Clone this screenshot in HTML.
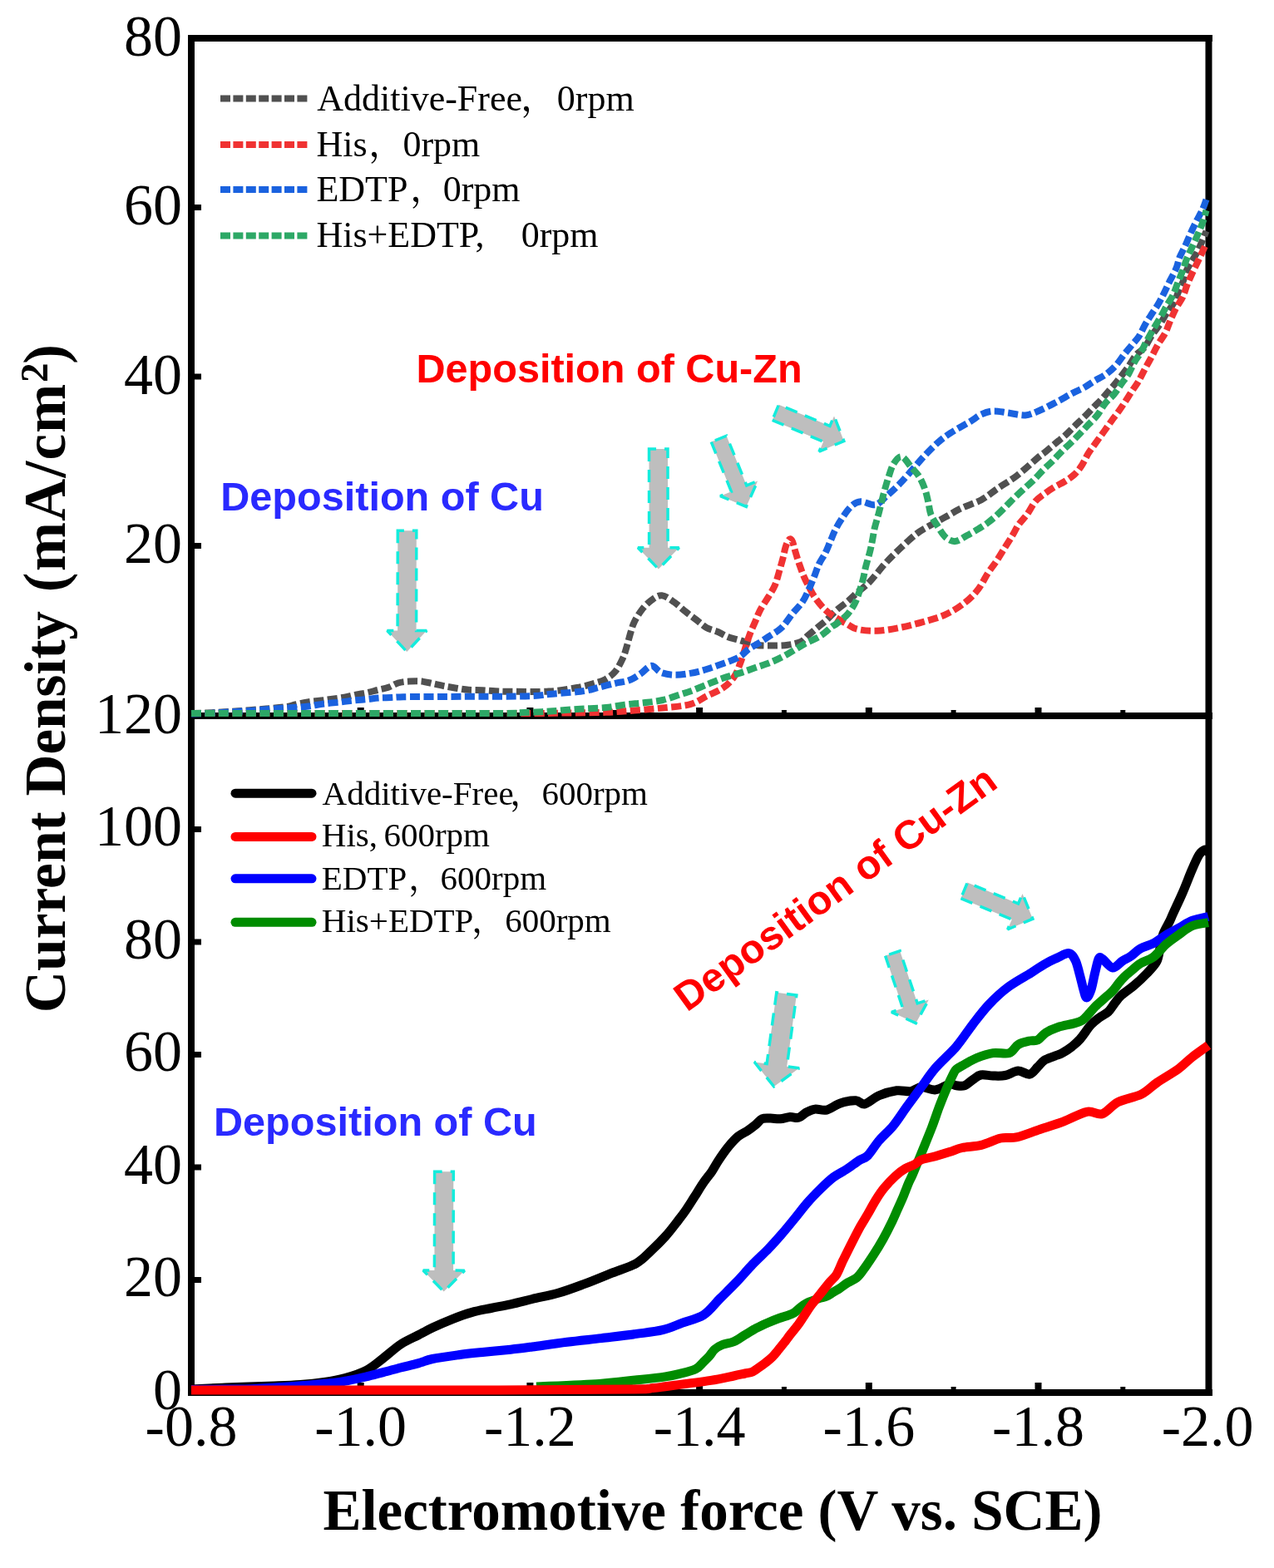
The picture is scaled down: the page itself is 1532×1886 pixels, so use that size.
<!DOCTYPE html>
<html><head><meta charset="utf-8"><title>Current density vs electromotive force</title>
<style>html,body{margin:0;padding:0;background:#fff;}svg{display:block;}</style></head>
<body>
<svg width="1532" height="1886" viewBox="0 0 1532 1886">
<rect x="0" y="0" width="1532" height="1886" fill="#fff"/>

<g fill="#000">
<rect x="226" y="42" width="1232" height="8"/>
<rect x="226" y="1671" width="1232" height="8"/>
<rect x="226" y="42" width="8" height="1637"/>
<rect x="1449.5" y="42" width="8" height="1637"/>
<rect x="226" y="857" width="1232" height="8"/>
<rect x="234" y="246.0" width="8" height="7"/>
<rect x="234" y="449.5" width="8" height="7"/>
<rect x="234" y="653.0" width="8" height="7"/>
<rect x="234" y="994.0" width="8" height="7"/>
<rect x="234" y="1129.5" width="8" height="7"/>
<rect x="234" y="1265.0" width="8" height="7"/>
<rect x="234" y="1400.5" width="8" height="7"/>
<rect x="234" y="1536.0" width="8" height="7"/>
<rect x="429.7" y="1663" width="8" height="8"/>
<rect x="429.7" y="851" width="8" height="6"/>
<rect x="633.4" y="1663" width="8" height="8"/>
<rect x="633.4" y="851" width="8" height="6"/>
<rect x="837.1" y="1663" width="8" height="8"/>
<rect x="837.1" y="851" width="8" height="6"/>
<rect x="1040.8" y="1663" width="8" height="8"/>
<rect x="1040.8" y="851" width="8" height="6"/>
<rect x="1244.5" y="1663" width="8" height="8"/>
<rect x="1244.5" y="851" width="8" height="6"/>
<rect x="328.9" y="1668" width="6" height="3"/>
<rect x="328.9" y="854" width="6" height="3"/>
<rect x="532.5" y="1668" width="6" height="3"/>
<rect x="532.5" y="854" width="6" height="3"/>
<rect x="736.2" y="1668" width="6" height="3"/>
<rect x="736.2" y="854" width="6" height="3"/>
<rect x="939.9" y="1668" width="6" height="3"/>
<rect x="939.9" y="854" width="6" height="3"/>
<rect x="1143.6" y="1668" width="6" height="3"/>
<rect x="1143.6" y="854" width="6" height="3"/>
<rect x="1347.3" y="1668" width="6" height="3"/>
<rect x="1347.3" y="854" width="6" height="3"/>
</g>
<g fill="none" stroke-width="8" stroke-dasharray="12 4.5" stroke-linejoin="round">
<path d="M230.0,858.0 C235.0,857.8 250.0,857.5 260.0,857.0 C270.0,856.5 280.0,855.8 290.0,855.0 C300.0,854.2 310.8,853.3 320.0,852.5 C329.2,851.7 339.2,850.8 345.0,850.0 C350.8,849.2 350.8,848.4 355.0,847.5 C359.2,846.6 363.8,845.5 370.0,844.5 C376.2,843.5 384.7,842.8 392.0,841.8 C399.3,840.8 408.0,839.6 414.0,838.6 C420.0,837.6 423.3,836.5 427.8,835.6 C432.3,834.7 436.5,834.2 440.9,833.3 C445.2,832.4 449.5,831.1 453.9,830.0 C458.2,828.9 462.9,828.2 467.0,826.8 C471.1,825.4 474.6,822.7 478.7,821.5 C482.8,820.3 487.0,819.9 491.8,819.6 C496.6,819.3 502.5,819.1 507.5,819.6 C512.5,820.1 517.4,821.6 521.8,822.5 C526.1,823.4 529.1,824.2 533.6,825.1 C538.1,826.0 543.6,826.9 548.6,827.7 C553.6,828.5 558.4,829.4 563.6,829.8 C568.8,830.2 574.6,830.0 579.9,830.3 C585.2,830.5 589.9,831.0 595.6,831.3 C601.3,831.5 603.3,831.8 614.0,831.8 C624.7,831.8 646.7,832.4 660.0,831.6 C673.3,830.8 684.5,828.7 694.0,827.0 C703.5,825.3 711.2,823.0 717.0,821.3 C722.8,819.6 724.7,819.1 728.5,816.8 C732.3,814.5 736.6,811.8 740.0,807.6 C743.4,803.4 746.7,796.5 749.0,791.6 C751.3,786.7 752.1,782.9 753.6,778.0 C755.1,773.1 756.5,767.0 758.0,762.0 C759.5,757.0 760.4,753.0 762.7,748.2 C765.0,743.4 768.5,737.8 771.9,733.4 C775.3,729.0 779.3,724.9 783.3,722.0 C787.3,719.1 791.3,715.9 795.9,716.3 C800.5,716.7 806.0,721.1 810.7,724.3 C815.5,727.5 819.9,732.1 824.4,735.7 C828.9,739.3 833.8,742.8 838.0,746.0 C842.2,749.2 845.4,752.7 849.6,755.0 C853.8,757.3 859.1,758.2 863.3,760.0 C867.5,761.8 870.8,764.3 875.0,765.9 C879.2,767.5 883.2,768.2 888.7,769.8 C894.2,771.4 901.8,774.6 908.3,775.7 C914.8,776.8 921.4,776.6 927.9,776.6 C934.4,776.6 941.6,776.5 947.5,775.7 C953.4,774.9 959.2,773.6 963.1,771.8 C967.0,770.0 967.7,767.7 971.0,764.9 C974.3,762.1 978.8,758.4 982.7,755.1 C986.6,751.8 990.6,748.9 994.5,745.3 C998.4,741.7 1002.0,737.4 1006.2,733.6 C1010.5,729.9 1015.8,726.4 1020.0,722.8 C1024.2,719.2 1027.5,715.8 1031.7,712.0 C1035.9,708.2 1039.9,706.0 1045.4,700.3 C1050.9,694.6 1058.5,684.3 1064.6,677.6 C1070.7,670.9 1076.0,665.8 1082.2,659.9 C1088.4,654.0 1095.9,646.9 1101.8,642.3 C1107.7,637.7 1111.6,635.9 1117.5,632.5 C1123.4,629.1 1130.6,625.4 1137.1,621.8 C1143.6,618.2 1149.4,614.4 1156.6,611.0 C1163.8,607.6 1172.9,605.1 1180.1,601.2 C1187.3,597.3 1192.5,592.4 1199.7,587.5 C1206.9,582.6 1215.3,577.9 1223.2,571.8 C1231.1,565.7 1241.6,555.9 1247.3,551.1 C1253.0,546.3 1253.8,546.2 1257.6,543.1 C1261.4,540.0 1266.1,535.9 1270.0,532.6 C1273.9,529.3 1277.5,526.8 1281.1,523.5 C1284.7,520.2 1288.0,516.6 1291.6,513.1 C1295.2,509.6 1298.9,506.3 1302.7,502.6 C1306.5,498.9 1310.6,494.4 1314.2,490.7 C1317.8,487.0 1321.4,483.7 1324.6,480.3 C1327.8,476.9 1330.2,473.9 1333.1,470.5 C1336.0,467.1 1338.4,464.7 1342.2,460.0 C1346.0,455.3 1351.9,447.9 1355.9,442.4 C1359.9,436.9 1362.6,431.1 1366.0,427.0 C1369.4,422.9 1373.2,421.8 1376.4,417.8 C1379.6,413.8 1382.3,407.6 1385.3,403.1 C1388.3,398.6 1391.2,395.4 1394.2,391.0 C1397.2,386.6 1400.1,380.9 1403.1,376.4 C1406.1,371.8 1409.7,367.9 1412.0,363.7 C1414.3,359.4 1415.3,355.1 1417.1,350.9 C1418.9,346.6 1421.3,342.2 1422.8,338.2 C1424.3,334.2 1424.5,330.7 1426.0,327.0 C1427.5,323.3 1429.9,319.7 1432.0,316.0 C1434.1,312.3 1436.5,308.9 1438.7,304.8 C1440.9,300.7 1443.0,296.0 1445.0,291.5 C1447.0,287.0 1449.6,280.2 1450.5,278.0" stroke="#505050"/>
<path d="M230.0,858.0 C258.3,858.0 338.3,858.0 400.0,858.0 C461.7,858.0 558.3,858.0 600.0,858.0 C641.7,858.0 636.2,858.1 650.0,858.0 C663.8,857.9 669.7,857.7 682.8,857.5 C695.9,857.3 715.2,857.3 728.5,856.8 C741.8,856.3 751.3,855.4 762.7,854.5 C774.1,853.6 785.8,852.7 797.0,851.5 C808.2,850.3 821.2,849.5 830.0,847.1 C838.8,844.8 843.1,840.6 849.6,837.4 C856.1,834.1 863.7,831.5 869.2,827.6 C874.8,823.7 879.3,819.1 882.9,813.9 C886.5,808.7 888.2,802.7 890.7,796.2 C893.2,789.7 895.7,780.6 897.6,774.7 C899.5,768.8 900.6,765.6 902.4,761.0 C904.2,756.4 906.3,751.9 908.3,747.3 C910.3,742.7 911.6,738.5 914.2,733.6 C916.8,728.7 921.1,722.8 924.0,717.9 C926.9,713.0 929.7,709.1 931.8,704.2 C933.9,699.3 935.1,694.0 936.7,688.5 C938.3,683.0 940.3,675.9 941.6,670.9 C942.9,665.9 943.5,661.8 944.5,658.5 C945.5,655.2 946.5,652.7 947.5,651.0 C948.5,649.3 949.4,648.0 950.4,648.2 C951.4,648.4 952.3,649.7 953.2,652.0 C954.1,654.3 954.7,657.5 956.0,662.0 C957.3,666.5 959.4,673.3 961.2,678.7 C963.1,684.1 965.1,689.8 967.1,694.4 C969.1,699.0 970.7,702.0 973.0,706.2 C975.3,710.5 977.5,715.3 980.8,719.9 C984.0,724.5 988.6,729.9 992.5,733.6 C996.4,737.4 1000.0,739.6 1004.3,742.4 C1008.5,745.2 1013.5,747.8 1018.0,750.2 C1022.5,752.6 1025.2,755.5 1031.3,756.9 C1037.4,758.3 1046.3,759.1 1054.8,758.8 C1063.3,758.5 1073.0,756.7 1082.2,754.9 C1091.4,753.1 1100.6,750.7 1109.7,748.1 C1118.8,745.5 1128.6,743.1 1137.1,739.2 C1145.6,735.3 1154.1,729.7 1160.6,724.6 C1167.1,719.5 1171.6,714.8 1176.2,708.9 C1180.8,703.0 1184.4,694.8 1188.0,689.3 C1191.6,683.8 1194.5,680.5 1197.8,675.6 C1201.1,670.7 1204.3,665.1 1207.6,659.9 C1210.8,654.7 1214.4,649.2 1217.3,644.3 C1220.2,639.4 1222.2,634.9 1225.2,630.6 C1228.2,626.4 1231.7,623.4 1235.0,618.8 C1238.3,614.2 1241.5,607.2 1244.8,603.2 C1248.1,599.2 1251.2,597.4 1255.0,594.6 C1258.8,591.8 1263.2,588.8 1267.4,586.2 C1271.7,583.6 1276.4,581.6 1280.5,579.0 C1284.6,576.4 1288.8,573.7 1292.2,570.5 C1295.6,567.3 1298.0,564.1 1300.7,560.0 C1303.4,555.9 1305.7,550.3 1308.5,545.7 C1311.3,541.1 1314.5,537.1 1317.7,532.6 C1320.9,528.1 1324.7,523.0 1327.9,518.5 C1331.1,514.0 1334.2,509.6 1337.0,505.7 C1339.8,501.8 1342.2,499.0 1344.8,495.3 C1347.4,491.6 1350.0,487.7 1352.7,483.6 C1355.4,479.5 1358.4,474.6 1361.1,470.5 C1363.8,466.4 1366.4,463.2 1369.0,458.7 C1371.6,454.2 1374.2,448.6 1376.8,443.7 C1379.4,438.8 1382.1,434.2 1384.7,429.4 C1387.3,424.5 1389.5,419.4 1392.3,414.6 C1395.0,409.8 1398.8,405.3 1401.2,400.6 C1403.6,395.9 1404.8,391.5 1406.9,386.6 C1409.0,381.7 1411.4,376.2 1413.9,371.3 C1416.5,366.4 1420.0,362.0 1422.2,357.3 C1424.4,352.6 1425.4,348.1 1427.3,343.3 C1429.2,338.5 1431.5,333.5 1433.7,328.6 C1435.9,323.7 1438.6,318.4 1440.7,314.0 C1442.8,309.6 1444.8,305.4 1446.4,301.9 C1448.0,298.4 1449.8,294.5 1450.5,293.0" stroke="#F03232"/>
<path d="M230.0,858.5 C235.0,858.3 250.0,858.0 260.0,857.5 C270.0,857.0 283.3,855.9 290.0,855.5 C296.7,855.1 292.8,855.5 300.0,855.0 C307.2,854.5 324.2,853.0 333.0,852.3 C341.8,851.6 346.7,851.5 353.0,851.0 C359.3,850.5 364.8,850.3 371.0,849.5 C377.2,848.7 383.5,847.2 390.0,846.4 C396.5,845.6 404.0,845.2 410.0,844.5 C416.0,843.8 420.8,843.0 426.0,842.4 C431.2,841.8 436.2,841.6 441.0,841.1 C445.8,840.6 450.2,839.9 455.0,839.5 C459.8,839.1 465.0,839.2 470.0,839.0 C475.0,838.8 476.1,838.4 485.0,838.2 C493.9,838.0 509.8,838.1 523.7,838.0 C537.6,837.9 549.6,837.9 568.5,837.8 C587.4,837.7 621.8,837.8 637.0,837.3 C652.2,836.8 651.6,835.8 660.0,835.0 C668.4,834.2 679.7,833.5 687.3,832.8 C694.9,832.0 700.3,831.5 705.6,830.5 C710.9,829.5 713.6,828.5 719.3,827.0 C725.0,825.5 733.9,823.2 740.0,821.8 C746.1,820.4 751.0,820.4 755.9,818.6 C760.8,816.8 765.0,814.0 769.6,811.0 C774.2,808.0 779.1,801.2 783.3,800.8 C787.5,800.4 790.1,807.0 794.7,808.8 C799.3,810.6 804.8,811.6 810.7,811.8 C816.6,812.0 823.5,811.0 830.0,809.9 C836.5,808.8 843.1,807.0 849.6,805.0 C856.1,803.0 862.7,800.6 869.2,798.2 C875.7,795.8 883.5,793.3 888.7,790.4 C893.9,787.5 896.6,783.4 900.5,780.6 C904.4,777.8 908.3,776.2 912.2,773.7 C916.1,771.2 919.4,769.0 924.0,765.9 C928.6,762.8 934.8,759.8 939.7,755.1 C944.6,750.4 949.2,742.7 953.4,737.5 C957.6,732.3 961.8,728.7 965.1,723.8 C968.4,718.9 970.7,713.0 973.0,708.1 C975.3,703.2 976.8,699.3 978.8,694.4 C980.8,689.5 982.4,683.6 984.7,678.7 C987.0,673.8 990.2,669.6 992.5,665.0 C994.8,660.4 996.4,655.9 998.4,651.3 C1000.4,646.7 1002.1,642.0 1004.3,637.6 C1006.5,633.2 1008.5,629.5 1011.7,624.7 C1014.9,619.9 1019.6,612.6 1023.5,609.0 C1027.4,605.4 1030.3,603.5 1035.2,603.2 C1040.1,602.9 1047.7,608.2 1052.9,607.1 C1058.1,606.0 1061.7,600.5 1066.6,596.3 C1071.5,592.0 1077.0,587.0 1082.2,581.6 C1087.4,576.2 1093.0,569.5 1097.9,564.0 C1102.8,558.5 1106.7,553.5 1111.6,548.3 C1116.5,543.1 1122.1,537.3 1127.3,532.7 C1132.5,528.1 1136.4,525.1 1142.9,520.9 C1149.4,516.6 1160.2,510.9 1166.4,507.2 C1172.6,503.4 1175.5,500.5 1180.1,498.4 C1184.7,496.3 1188.7,494.8 1193.9,494.5 C1199.1,494.2 1205.0,495.6 1211.5,496.4 C1218.0,497.2 1226.5,499.9 1233.0,499.4 C1239.5,498.9 1244.4,496.1 1250.6,493.5 C1256.8,490.9 1263.7,487.1 1270.2,483.7 C1276.7,480.3 1284.3,475.8 1289.8,472.9 C1295.3,470.0 1298.6,469.1 1303.0,466.6 C1307.4,464.1 1311.6,460.8 1316.1,458.1 C1320.6,455.4 1325.5,453.4 1329.8,450.3 C1334.0,447.2 1337.9,443.8 1341.6,439.8 C1345.3,435.8 1348.8,430.2 1352.0,426.1 C1355.2,422.0 1358.2,418.6 1361.1,415.0 C1364.0,411.4 1366.9,408.7 1369.6,404.6 C1372.2,400.5 1374.5,394.8 1377.0,390.4 C1379.5,386.0 1381.9,382.4 1384.6,378.3 C1387.2,374.2 1390.4,370.0 1392.9,365.6 C1395.5,361.2 1397.6,356.9 1399.9,352.2 C1402.2,347.5 1404.5,342.6 1406.9,337.6 C1409.4,332.6 1412.7,327.0 1414.6,322.3 C1416.5,317.6 1416.7,314.0 1418.5,309.5 C1420.3,305.0 1423.2,300.2 1425.4,295.3 C1427.6,290.4 1429.6,285.3 1431.8,280.4 C1434.0,275.5 1436.3,270.9 1438.7,266.1 C1441.1,261.3 1444.1,256.2 1446.1,251.8 C1448.1,247.5 1449.8,242.0 1450.5,240.0" stroke="#1A62DF"/>
<path d="M230.0,858.0 C258.3,858.0 338.3,858.0 400.0,858.0 C461.7,858.0 562.5,858.1 600.0,858.0 C637.5,857.9 617.5,857.5 625.0,857.3 C632.5,857.0 638.3,856.8 645.0,856.5 C651.7,856.2 656.8,855.9 665.0,855.3 C673.2,854.7 683.6,853.6 694.2,852.9 C704.8,852.2 719.0,851.9 728.5,851.0 C738.0,850.1 743.7,848.6 751.3,847.6 C758.9,846.6 766.6,846.2 774.2,845.3 C781.8,844.4 789.4,843.8 797.0,842.0 C804.6,840.2 814.4,836.4 819.9,834.6 C825.4,832.9 825.0,833.3 830.0,831.5 C835.0,829.7 843.1,826.2 849.6,823.6 C856.1,821.0 862.7,818.1 869.2,815.8 C875.7,813.5 882.2,812.0 888.7,809.9 C895.2,807.8 901.8,805.4 908.3,803.1 C914.8,800.8 921.4,799.0 927.9,796.2 C934.4,793.4 941.0,790.0 947.5,786.4 C954.0,782.8 960.6,778.3 967.1,774.7 C973.6,771.1 981.1,768.4 986.6,764.9 C992.1,761.4 996.7,756.4 1000.0,753.9 C1003.3,751.4 1002.9,752.6 1006.2,750.0 C1009.5,747.4 1015.7,742.9 1019.6,738.3 C1023.5,733.7 1026.5,729.1 1029.4,722.6 C1032.3,716.1 1035.2,706.0 1037.2,699.1 C1039.2,692.2 1039.6,687.4 1041.1,681.5 C1042.6,675.6 1044.7,669.1 1046.0,663.9 C1047.3,658.7 1048.0,655.0 1049.0,650.1 C1050.0,645.2 1050.6,640.0 1051.9,634.5 C1053.2,629.0 1055.0,623.8 1056.8,616.9 C1058.6,610.0 1060.8,600.6 1062.7,593.4 C1064.7,586.2 1066.5,579.7 1068.5,573.8 C1070.5,567.9 1071.8,562.2 1074.4,558.1 C1077.0,554.0 1080.6,548.6 1084.2,549.3 C1087.8,549.9 1092.3,557.9 1095.9,562.0 C1099.5,566.1 1102.9,569.2 1105.7,573.8 C1108.5,578.4 1110.8,584.2 1112.6,589.4 C1114.4,594.6 1115.4,600.2 1116.5,605.1 C1117.6,610.0 1117.6,614.2 1119.4,618.8 C1121.2,623.4 1124.3,627.9 1127.3,632.5 C1130.2,637.1 1133.5,643.1 1137.1,646.2 C1140.7,649.3 1144.6,651.4 1148.8,651.1 C1153.0,650.8 1157.9,646.8 1162.5,644.3 C1167.1,641.8 1172.0,639.0 1176.2,636.4 C1180.5,633.8 1184.1,631.5 1188.0,628.6 C1191.9,625.7 1195.8,622.4 1199.7,618.8 C1203.6,615.2 1207.9,610.7 1211.5,607.1 C1215.1,603.5 1217.7,600.7 1221.3,597.3 C1224.9,593.9 1229.3,589.9 1233.0,586.5 C1236.7,583.1 1239.7,580.7 1243.3,577.2 C1246.9,573.7 1250.6,569.1 1254.4,565.3 C1258.2,561.5 1262.4,557.9 1266.1,554.2 C1269.8,550.5 1273.0,546.7 1276.6,543.1 C1280.2,539.5 1284.0,536.2 1287.7,532.6 C1291.4,529.0 1295.2,525.1 1298.7,521.5 C1302.2,517.9 1305.0,514.8 1308.5,511.1 C1312.0,507.4 1316.0,503.9 1319.4,499.5 C1322.9,495.1 1325.8,489.1 1329.2,484.9 C1332.6,480.7 1336.3,478.3 1339.6,474.4 C1342.8,470.5 1345.8,465.5 1348.7,461.4 C1351.6,457.3 1354.6,454.0 1357.2,449.6 C1359.8,445.2 1362.0,439.4 1364.4,435.2 C1366.8,431.0 1369.3,428.2 1371.6,424.2 C1373.9,420.2 1375.6,416.4 1378.3,411.4 C1381.0,406.4 1384.9,399.2 1387.8,394.2 C1390.7,389.2 1393.0,385.9 1395.5,381.5 C1398.0,377.1 1400.6,372.0 1403.1,367.5 C1405.6,363.0 1408.5,359.4 1410.7,354.7 C1412.9,350.0 1414.6,344.4 1416.5,339.5 C1418.4,334.6 1420.4,330.3 1422.2,325.5 C1424.0,320.7 1425.3,315.8 1427.3,310.8 C1429.3,305.8 1432.2,300.3 1434.4,295.3 C1436.7,290.3 1438.8,285.7 1440.8,280.9 C1442.8,276.1 1445.0,271.2 1446.6,266.6 C1448.2,262.0 1449.8,255.3 1450.5,253.0" stroke="#2DA866"/>
</g>
<g fill="none" stroke-width="11" stroke-linejoin="round" stroke-linecap="butt">
<path d="M230.0,1671.0 C236.8,1670.7 254.3,1669.7 271.0,1669.0 C287.7,1668.3 315.0,1667.6 330.0,1667.0 C345.0,1666.4 351.0,1666.2 361.0,1665.5 C371.0,1664.8 381.0,1663.8 390.0,1662.5 C399.0,1661.2 406.5,1659.9 415.0,1657.5 C423.5,1655.1 433.4,1652.0 441.0,1648.0 C448.6,1644.0 454.1,1638.8 460.9,1633.6 C467.7,1628.4 474.8,1621.6 481.8,1617.0 C488.8,1612.4 496.3,1609.3 502.7,1606.0 C509.1,1602.7 513.2,1600.2 520.0,1597.0 C526.8,1593.8 535.7,1589.9 543.5,1586.8 C551.3,1583.7 559.2,1580.8 567.0,1578.6 C574.8,1576.4 582.7,1575.1 590.5,1573.5 C598.3,1571.9 605.8,1570.6 614.0,1568.8 C622.2,1567.0 630.5,1564.8 640.0,1562.5 C649.5,1560.2 660.8,1558.3 671.3,1555.3 C681.8,1552.3 692.2,1548.3 702.7,1544.4 C713.2,1540.5 723.6,1536.1 734.0,1531.9 C744.4,1527.7 757.1,1524.1 765.3,1519.4 C773.5,1514.8 777.5,1509.5 783.4,1504.0 C789.3,1498.5 795.5,1492.3 800.7,1486.5 C805.9,1480.7 810.5,1474.5 814.5,1469.3 C818.5,1464.1 821.4,1460.5 824.8,1455.5 C828.2,1450.5 831.6,1445.0 835.1,1439.6 C838.6,1434.2 842.0,1428.1 845.5,1423.1 C849.0,1418.0 852.7,1413.8 855.8,1409.3 C858.9,1404.8 860.6,1401.0 863.9,1396.0 C867.2,1391.0 871.8,1384.3 875.7,1379.5 C879.6,1374.7 883.5,1370.3 887.4,1367.0 C891.3,1363.7 895.7,1362.2 899.2,1359.9 C902.7,1357.6 905.7,1355.2 908.6,1352.9 C911.5,1350.6 913.4,1347.1 916.4,1345.8 C919.4,1344.5 923.0,1345.1 926.6,1345.1 C930.2,1345.1 934.4,1346.1 938.3,1345.8 C942.2,1345.5 946.5,1343.8 950.1,1343.5 C953.8,1343.2 957.0,1345.2 960.2,1344.3 C963.5,1343.4 966.3,1339.7 969.6,1338.0 C972.9,1336.3 975.9,1334.6 980.0,1334.1 C984.1,1333.6 988.9,1336.3 994.0,1335.1 C999.1,1333.9 1004.7,1328.8 1010.6,1326.9 C1016.5,1325.0 1024.3,1323.6 1029.2,1323.8 C1034.1,1324.0 1035.4,1328.9 1040.0,1327.9 C1044.6,1326.9 1050.6,1320.4 1057.0,1317.7 C1063.4,1315.0 1071.8,1312.7 1078.2,1311.8 C1084.6,1310.9 1090.2,1313.3 1095.2,1312.6 C1100.2,1311.9 1103.0,1307.8 1107.9,1307.5 C1112.9,1307.2 1119.2,1311.5 1124.9,1310.9 C1130.6,1310.3 1137.7,1304.9 1141.9,1304.1 C1146.1,1303.2 1147.0,1305.5 1150.0,1305.8 C1153.0,1306.1 1156.5,1306.9 1159.8,1305.8 C1163.1,1304.7 1166.3,1301.0 1169.6,1298.9 C1172.9,1296.8 1175.3,1293.8 1179.4,1293.0 C1183.5,1292.2 1189.2,1293.9 1194.1,1294.0 C1199.0,1294.1 1203.8,1294.5 1208.8,1293.5 C1213.8,1292.5 1219.5,1288.3 1224.4,1288.1 C1229.3,1287.9 1234.2,1292.9 1238.1,1292.1 C1242.0,1291.3 1245.0,1286.1 1247.9,1283.3 C1250.9,1280.5 1252.5,1277.5 1255.8,1275.4 C1259.1,1273.3 1263.9,1272.0 1267.5,1270.5 C1271.1,1269.0 1273.7,1268.5 1277.3,1266.6 C1280.9,1264.6 1285.5,1261.6 1289.1,1258.8 C1292.7,1256.0 1294.9,1254.3 1298.7,1250.0 C1302.5,1245.7 1307.9,1237.1 1311.8,1232.7 C1315.7,1228.3 1318.7,1226.4 1322.2,1223.8 C1325.7,1221.2 1329.7,1219.9 1332.7,1217.0 C1335.8,1214.1 1337.9,1209.9 1340.5,1206.6 C1343.1,1203.3 1344.5,1200.7 1348.3,1197.2 C1352.1,1193.7 1358.3,1189.9 1363.5,1185.5 C1368.7,1181.1 1374.6,1175.5 1379.2,1170.7 C1383.8,1165.9 1388.3,1161.7 1390.9,1156.6 C1393.5,1151.5 1393.7,1145.5 1395.0,1140.0 C1396.3,1134.5 1396.8,1129.0 1398.7,1123.7 C1400.6,1118.4 1404.5,1112.3 1406.6,1108.0 C1408.6,1103.7 1408.4,1103.7 1411.0,1098.0 C1413.6,1092.3 1418.3,1082.5 1422.0,1074.0 C1425.7,1065.5 1429.7,1054.7 1433.0,1047.0 C1436.3,1039.3 1439.3,1032.2 1442.0,1028.0 C1444.7,1023.8 1447.2,1022.5 1449.0,1022.0 C1450.8,1021.5 1452.3,1024.5 1453.0,1025.0" stroke="#000000"/>
<path d="M230.0,1671.5 C236.8,1671.4 260.2,1671.1 271.0,1671.0 C281.8,1670.9 285.0,1671.3 295.0,1671.0 C305.0,1670.7 319.3,1669.8 331.0,1669.0 C342.7,1668.2 353.5,1667.4 365.0,1666.5 C376.5,1665.6 391.3,1664.5 400.0,1663.5 C408.7,1662.5 410.3,1662.0 417.0,1660.8 C423.7,1659.5 432.7,1657.7 440.0,1656.0 C447.3,1654.3 453.9,1652.4 460.9,1650.6 C467.9,1648.8 474.8,1646.8 481.8,1645.0 C488.8,1643.2 496.3,1641.7 502.7,1639.9 C509.1,1638.2 511.9,1636.2 520.0,1634.5 C528.1,1632.8 540.9,1631.1 551.3,1629.7 C561.7,1628.3 572.1,1627.3 582.6,1626.2 C593.1,1625.1 604.4,1624.2 614.0,1623.2 C623.6,1622.2 628.7,1621.5 640.0,1620.0 C651.3,1618.5 667.9,1616.0 681.8,1614.3 C695.7,1612.6 709.6,1611.2 723.5,1609.6 C737.4,1607.9 753.1,1606.1 765.3,1604.4 C777.5,1602.8 787.6,1601.9 796.7,1599.7 C805.8,1597.5 811.8,1594.4 820.0,1591.4 C828.2,1588.4 838.5,1586.5 846.1,1581.6 C853.7,1576.7 859.2,1568.5 865.7,1562.0 C872.2,1555.5 878.8,1549.2 885.3,1542.4 C891.8,1535.6 898.5,1527.6 904.9,1520.9 C911.3,1514.2 918.1,1508.2 923.9,1502.2 C929.7,1496.2 934.4,1490.9 939.6,1484.9 C944.8,1478.9 950.0,1472.5 955.2,1466.1 C960.4,1459.7 965.7,1452.6 970.9,1446.6 C976.1,1440.6 981.4,1435.2 986.6,1430.1 C991.8,1425.0 997.0,1419.9 1002.2,1416.0 C1007.4,1412.1 1012.7,1409.9 1017.9,1406.5 C1023.1,1403.1 1029.2,1398.2 1033.5,1395.5 C1037.8,1392.8 1039.5,1393.9 1043.4,1390.0 C1047.3,1386.1 1051.9,1378.0 1057.0,1372.0 C1062.1,1366.0 1068.3,1361.1 1074.0,1354.2 C1079.7,1347.3 1085.2,1338.3 1090.9,1330.5 C1096.6,1322.7 1102.2,1315.2 1107.9,1307.5 C1113.6,1299.8 1117.9,1292.7 1124.9,1284.6 C1131.9,1276.5 1142.5,1267.5 1150.0,1258.8 C1157.5,1250.1 1163.0,1240.8 1169.6,1232.3 C1176.1,1223.8 1182.1,1215.7 1189.3,1208.1 C1196.5,1200.5 1204.3,1193.2 1212.8,1186.9 C1221.2,1180.6 1232.8,1174.6 1240.0,1170.1 C1247.2,1165.6 1250.5,1162.9 1255.7,1159.9 C1260.9,1156.9 1266.3,1154.3 1271.3,1152.1 C1276.2,1149.9 1281.8,1146.1 1285.4,1146.6 C1289.1,1147.1 1291.1,1151.2 1293.2,1155.2 C1295.3,1159.2 1296.4,1165.3 1298.0,1170.9 C1299.6,1176.5 1301.2,1184.1 1302.6,1188.9 C1304.0,1193.7 1305.0,1199.6 1306.6,1199.9 C1308.2,1200.2 1310.3,1195.5 1312.0,1190.5 C1313.7,1185.5 1315.1,1176.4 1316.7,1170.1 C1318.3,1163.8 1319.8,1155.6 1321.4,1152.9 C1323.0,1150.2 1323.3,1151.9 1326.1,1153.7 C1328.8,1155.5 1334.0,1163.6 1337.9,1164.0 C1341.8,1164.4 1345.9,1158.3 1349.6,1156.0 C1353.3,1153.7 1356.4,1152.5 1360.0,1150.0 C1363.6,1147.5 1366.8,1143.6 1371.3,1141.0 C1375.8,1138.4 1381.8,1137.3 1387.0,1134.6 C1392.2,1131.8 1397.4,1127.6 1402.6,1124.5 C1407.8,1121.4 1413.1,1118.7 1418.3,1115.8 C1423.5,1112.9 1428.2,1109.4 1434.0,1107.2 C1439.8,1105.0 1449.8,1103.3 1453.0,1102.5" stroke="#0000FF"/>
<path d="M645.0,1668.0 C657.6,1667.4 701.0,1665.7 720.8,1664.4 C740.6,1663.1 750.7,1661.4 763.9,1660.0 C777.1,1658.6 790.9,1657.2 800.0,1655.9 C809.1,1654.6 812.2,1653.7 818.3,1652.2 C824.4,1650.7 832.0,1649.0 836.6,1646.7 C841.2,1644.4 843.0,1641.1 845.7,1638.5 C848.4,1635.9 850.7,1633.8 853.0,1631.2 C855.3,1628.6 856.8,1625.3 859.4,1623.0 C862.0,1620.7 864.8,1619.0 868.6,1617.5 C872.4,1616.0 877.7,1615.8 882.3,1613.8 C886.9,1611.8 891.4,1608.3 896.0,1605.6 C900.6,1602.9 905.1,1599.8 909.7,1597.4 C914.3,1595.0 918.8,1593.0 923.4,1591.0 C928.0,1589.0 933.5,1586.8 937.1,1585.5 C940.7,1584.2 942.0,1584.1 945.0,1583.0 C948.0,1581.9 952.0,1580.8 955.0,1579.0 C958.0,1577.2 960.2,1574.3 962.8,1572.3 C965.4,1570.3 968.1,1568.6 970.7,1567.2 C973.3,1565.8 975.9,1565.1 978.5,1564.1 C981.1,1563.1 983.7,1562.1 986.3,1561.3 C988.9,1560.5 991.6,1560.2 994.2,1559.0 C996.8,1557.8 999.4,1555.9 1002.0,1554.3 C1004.6,1552.7 1006.9,1551.5 1009.8,1549.6 C1012.6,1547.7 1015.7,1545.1 1019.1,1543.0 C1022.5,1540.9 1026.8,1539.6 1030.0,1537.0 C1033.2,1534.4 1034.7,1532.0 1038.2,1527.3 C1041.7,1522.6 1046.8,1515.0 1050.8,1508.8 C1054.8,1502.6 1058.5,1496.4 1062.0,1490.2 C1065.5,1484.0 1068.8,1477.5 1071.6,1471.7 C1074.4,1465.9 1076.5,1460.9 1079.0,1455.3 C1081.5,1449.7 1084.3,1443.6 1086.5,1438.3 C1088.7,1433.0 1090.6,1427.7 1092.4,1423.4 C1094.2,1419.1 1095.0,1418.3 1097.6,1412.3 C1100.2,1406.3 1104.1,1396.7 1107.9,1387.3 C1111.7,1377.9 1117.1,1365.1 1120.6,1355.9 C1124.1,1346.7 1126.3,1339.7 1129.1,1332.2 C1131.9,1324.7 1134.8,1317.6 1137.6,1310.9 C1140.4,1304.2 1144.0,1296.4 1146.1,1292.3 C1148.2,1288.2 1147.7,1288.2 1150.0,1286.2 C1152.3,1284.2 1155.7,1282.6 1159.8,1280.3 C1163.9,1278.0 1168.8,1274.8 1174.5,1272.5 C1180.2,1270.2 1187.6,1267.6 1194.1,1266.6 C1200.6,1265.6 1208.7,1268.3 1213.7,1266.6 C1218.8,1264.9 1220.3,1258.9 1224.4,1256.5 C1228.5,1254.1 1234.2,1252.9 1238.1,1252.0 C1242.0,1251.1 1244.6,1252.6 1247.9,1250.9 C1251.2,1249.2 1253.6,1244.7 1257.7,1242.1 C1261.8,1239.5 1266.9,1237.3 1272.4,1235.5 C1277.9,1233.7 1286.1,1232.4 1290.9,1231.1 C1295.7,1229.8 1298.2,1229.3 1301.3,1227.4 C1304.3,1225.5 1306.6,1222.4 1309.2,1219.6 C1311.8,1216.8 1314.0,1213.8 1317.0,1210.7 C1320.0,1207.7 1323.9,1204.4 1327.4,1201.3 C1330.9,1198.2 1334.9,1195.1 1337.9,1191.9 C1341.0,1188.7 1343.4,1184.8 1345.7,1182.0 C1348.0,1179.2 1349.6,1177.3 1352.0,1175.0 C1354.4,1172.7 1356.8,1170.7 1360.0,1168.0 C1363.2,1165.3 1366.8,1161.7 1371.3,1158.9 C1375.8,1156.1 1381.8,1155.0 1387.0,1151.1 C1392.2,1147.2 1397.4,1140.0 1402.6,1135.4 C1407.8,1130.8 1413.1,1127.4 1418.3,1123.7 C1423.5,1120.0 1428.2,1115.8 1434.0,1113.5 C1439.8,1111.2 1449.8,1110.2 1453.0,1109.6" stroke="#008C00"/>
<path d="M230.0,1672.0 C291.7,1672.0 511.7,1672.2 600.0,1672.0 C688.3,1671.8 729.2,1671.4 760.0,1671.0 C790.8,1670.6 778.3,1670.0 785.0,1669.5 C791.7,1669.0 792.9,1668.7 800.0,1667.8 C807.1,1666.9 818.3,1665.3 827.4,1664.1 C836.5,1662.9 845.6,1661.9 854.8,1660.4 C863.9,1658.9 875.4,1656.4 882.3,1655.0 C889.2,1653.6 892.2,1652.8 896.0,1652.0 C899.8,1651.2 902.2,1651.2 905.0,1650.0 C907.8,1648.8 910.2,1646.6 912.8,1644.8 C915.4,1643.0 918.1,1641.1 920.7,1639.0 C923.3,1636.9 925.9,1634.9 928.5,1632.3 C931.1,1629.7 933.7,1626.4 936.3,1623.3 C938.9,1620.2 941.9,1616.4 944.2,1613.5 C946.5,1610.6 947.5,1608.9 950.0,1605.7 C952.5,1602.5 956.1,1598.4 958.9,1594.6 C961.7,1590.8 964.2,1586.8 966.8,1582.9 C969.4,1579.0 972.0,1574.7 974.6,1571.1 C977.2,1567.5 979.8,1564.6 982.4,1561.3 C985.0,1558.0 987.7,1554.8 990.3,1551.5 C992.9,1548.2 995.5,1544.9 998.1,1541.8 C1000.7,1538.7 1003.3,1537.4 1005.9,1533.1 C1008.5,1528.8 1010.6,1522.7 1013.7,1516.2 C1016.9,1509.7 1021.3,1500.7 1024.8,1493.9 C1028.3,1487.1 1031.4,1481.0 1034.5,1475.4 C1037.6,1469.8 1040.3,1465.8 1043.4,1460.5 C1046.5,1455.2 1049.8,1448.8 1053.1,1443.5 C1056.4,1438.2 1059.5,1433.4 1063.5,1428.6 C1067.5,1423.8 1072.6,1418.3 1076.8,1414.5 C1081.0,1410.7 1084.8,1407.9 1088.7,1405.6 C1092.6,1403.3 1096.8,1402.3 1100.0,1400.5 C1103.2,1398.7 1103.8,1396.6 1107.9,1395.0 C1112.1,1393.4 1119.2,1392.3 1124.9,1390.7 C1130.6,1389.1 1136.5,1387.3 1141.9,1385.6 C1147.3,1383.9 1150.8,1381.9 1157.1,1380.5 C1163.4,1379.1 1172.2,1379.2 1179.9,1377.3 C1187.6,1375.4 1196.4,1370.6 1203.4,1369.0 C1210.5,1367.4 1214.4,1369.7 1222.2,1367.9 C1230.0,1366.2 1241.0,1361.6 1250.4,1358.5 C1259.8,1355.4 1269.2,1352.6 1278.6,1349.1 C1288.0,1345.6 1299.0,1338.9 1306.8,1337.3 C1314.6,1335.7 1319.3,1341.7 1325.6,1339.7 C1331.9,1337.8 1336.6,1329.5 1344.4,1325.6 C1352.2,1321.7 1364.8,1320.1 1372.6,1316.2 C1380.4,1312.3 1384.0,1307.2 1391.4,1302.1 C1398.8,1297.0 1410.2,1290.7 1417.2,1285.6 C1424.2,1280.5 1427.6,1276.2 1433.6,1271.5 C1439.6,1266.8 1449.8,1259.8 1453.0,1257.4" stroke="#FF0000"/>
</g>
<g fill="#BEBEBE" stroke="#14ECDC" stroke-width="3.5" stroke-dasharray="15 10" stroke-linejoin="miter" stroke-miterlimit="2.2">
<polygon points="478.3,638.3 478.1,758.5 465.6,758.5 489.3,784.0 513.1,758.5 500.6,758.5 500.8,638.3"/>
<polygon points="780.5,540.0 780.6,658.7 767.1,658.7 791.9,684.6 816.6,658.7 803.1,658.7 803.0,540.0"/>
<polygon points="855.3,531.6 879.4,591.3 866.1,596.7 897.4,609.4 911.1,578.5 897.8,583.9 873.6,524.2"/>
<polygon points="928.7,505.4 990.1,531.2 985.0,543.2 1014.8,530.5 1003.0,500.4 997.9,512.4 936.5,486.7"/>
<polygon points="522.6,1409.2 522.4,1528.1 508.8,1528.0 533.7,1553.6 558.7,1528.2 545.1,1528.1 545.3,1409.2"/>
<polygon points="933.8,1193.8 922.1,1279.5 907.2,1277.5 930.6,1306.9 961.0,1284.8 946.2,1282.8 957.8,1197.1"/>
<polygon points="1064.6,1149.6 1085.6,1212.8 1072.0,1217.3 1101.3,1230.7 1116.8,1202.4 1103.2,1206.9 1082.2,1143.8"/>
<polygon points="1155.4,1080.6 1216.7,1105.9 1211.7,1117.9 1241.9,1105.2 1229.5,1074.9 1224.5,1086.9 1163.3,1061.6"/>
</g>
<g font-family="'Liberation Serif','Times New Roman',serif" font-size="70" fill="#000">
<text x="219" y="66.5" text-anchor="end">80</text>
<text x="219" y="270.0" text-anchor="end">60</text>
<text x="219" y="473.5" text-anchor="end">40</text>
<text x="219" y="677.0" text-anchor="end">20</text>
<text x="219" y="881.5" text-anchor="end">120</text>
<text x="219" y="1017.0" text-anchor="end">100</text>
<text x="219" y="1152.5" text-anchor="end">80</text>
<text x="219" y="1288.0" text-anchor="end">60</text>
<text x="219" y="1423.5" text-anchor="end">40</text>
<text x="219" y="1559.0" text-anchor="end">20</text>
<text x="219" y="1694.5" text-anchor="end">0</text>
<text x="230.0" y="1738.5" text-anchor="middle">-0.8</text>
<text x="433.7" y="1738.5" text-anchor="middle">-1.0</text>
<text x="637.4" y="1738.5" text-anchor="middle">-1.2</text>
<text x="841.1" y="1738.5" text-anchor="middle">-1.4</text>
<text x="1044.8" y="1738.5" text-anchor="middle">-1.6</text>
<text x="1248.5" y="1738.5" text-anchor="middle">-1.8</text>
<text x="1452.2" y="1738.5" text-anchor="middle">-2.0</text>
</g>
<text x="388.4" y="1839.7" font-family="'Liberation Serif','Times New Roman',serif" font-weight="bold" font-size="69" fill="#000">Electromotive force (V vs. SCE)</text>
<text transform="translate(77.5,1218.2) rotate(-90)" font-family="'Liberation Serif','Times New Roman',serif" font-weight="bold" font-size="69.5" letter-spacing="0" fill="#000">Current</text>
<text transform="translate(77.5,957.4) rotate(-90)" font-family="'Liberation Serif','Times New Roman',serif" font-weight="bold" font-size="69" letter-spacing="0" fill="#000">Density</text>
<text transform="translate(77.5,712.2) rotate(-90)" font-family="'Liberation Serif','Times New Roman',serif" font-weight="bold" font-size="71" letter-spacing="1.2" fill="#000">(mA/cm</text>
<text transform="translate(56.5,459.9) rotate(-90)" font-family="'Liberation Serif','Times New Roman',serif" font-weight="bold" font-size="47" letter-spacing="0" fill="#000">2</text>
<text transform="translate(77.5,437.7) rotate(-90)" font-family="'Liberation Serif','Times New Roman',serif" font-weight="bold" font-size="71" letter-spacing="0" fill="#000">)</text>
<g font-family="'Liberation Serif','Noto Serif CJK SC','Times New Roman',serif" font-size="44" fill="#000">
<line x1="265" y1="118.5" x2="372" y2="118.5" stroke="#505050" stroke-width="8" stroke-dasharray="12 3.4"/>
<text x="381.2" y="132.9">Additive-Free</text>
<text x="626.0" y="132.9">，</text>
<text x="669.8" y="132.9">0rpm</text>
<line x1="265" y1="173.9" x2="372" y2="173.9" stroke="#F03232" stroke-width="8" stroke-dasharray="12 3.4"/>
<text x="380.4" y="187.7">His</text>
<text x="443.0" y="187.7">，</text>
<text x="484.4" y="187.7">0rpm</text>
<line x1="265" y1="228.1" x2="372" y2="228.1" stroke="#1A62DF" stroke-width="8" stroke-dasharray="12 3.4"/>
<text x="380.4" y="241.8">EDTP</text>
<text x="493.0" y="241.8">，</text>
<text x="532.7" y="241.8">0rpm</text>
<line x1="265" y1="283.5" x2="372" y2="283.5" stroke="#2DA866" stroke-width="8" stroke-dasharray="12 3.4"/>
<text x="380.4" y="296.6">His+EDTP,</text>
<text x="626.7" y="296.6">0rpm</text>
</g>
<g font-family="'Liberation Serif','Noto Serif CJK SC','Times New Roman',serif" font-size="41" fill="#000">
<line x1="283" y1="954.2" x2="375" y2="954.2" stroke="#000000" stroke-width="11" stroke-linecap="round"/>
<text x="387.6" y="967.5">Additive-Free</text>
<text x="613.0" y="967.5">，</text>
<text x="651.4" y="967.5">600rpm</text>
<line x1="283" y1="1006.4" x2="375" y2="1006.4" stroke="#FF0000" stroke-width="11" stroke-linecap="round"/>
<text x="386.8" y="1018.3">His,</text>
<text x="461.4" y="1018.3">600rpm</text>
<line x1="283" y1="1056.8" x2="375" y2="1056.8" stroke="#0000FF" stroke-width="11" stroke-linecap="round"/>
<text x="386.8" y="1070.1">EDTP</text>
<text x="491.0" y="1070.1">，</text>
<text x="529.6" y="1070.1">600rpm</text>
<line x1="283" y1="1109.3" x2="375" y2="1109.3" stroke="#008C00" stroke-width="11" stroke-linecap="round"/>
<text x="386.8" y="1121">His+EDTP</text>
<text x="567.0" y="1121">，</text>
<text x="607.2" y="1121">600rpm</text>
</g>
<g font-family="'Liberation Sans',Arial,sans-serif" font-weight="bold" font-size="48.6">
<text x="500.4" y="460.3" fill="#FF0000">Deposition of Cu-Zn</text>
<text x="265.2" y="613.5" fill="#2A2AFF">Deposition of Cu</text>
<text x="257" y="1366" fill="#2A2AFF">Deposition of Cu</text>
<text transform="translate(826,1218) rotate(-35.9)" fill="#FF0000">Deposition of Cu-Zn</text>
</g>
</svg>
</body></html>
